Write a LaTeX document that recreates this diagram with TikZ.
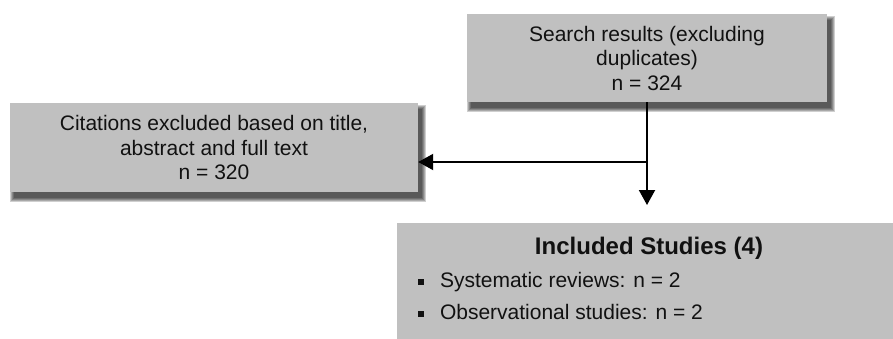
\documentclass[tikz,border=0pt]{standalone}
\usepackage{fontspec}
\setmainfont{Liberation Sans}
\usetikzlibrary{arrows.meta,backgrounds}
\definecolor{boxgray}{HTML}{C0C0C0}
\definecolor{txt}{HTML}{111111}
\tikzset{
  flowbox/.style={rectangle, fill=boxgray, draw=none, inner sep=0pt, align=center,
    text=txt, font=\fontsize{21}{24.5}\selectfont},
  conn/.style={line width=2pt, draw=black},
  tip/.style={-{Triangle[width=16pt,length=15pt]}},
  boxtext/.style={inner sep=0pt, text=txt, font=\fontsize{21}{24.5}\selectfont},
}
\newcommand{\boxshadow}[1]{%
  \foreach \r in {0,1,2,3,4}{
    \fill[black,opacity=0.19] ([shift={(4-\r,6-\r)}]#1.north west) rectangle ([shift={(4+\r,6+\r)}]#1.south east);
  }}
\begin{document}
\begin{tikzpicture}[x=1pt,y=-1pt]
\clip (0,0) rectangle (893,339);

\node[flowbox, minimum width=360pt, minimum height=88pt] (search) at (647,58)
  {Search results (excluding\\duplicates)\\n = 324};
\node[flowbox, minimum width=408pt, minimum height=89pt] (excl) at (214,147.5)
  {Citations excluded based on title,\\abstract and full text\\n = 320};
\node[flowbox, minimum width=504pt, minimum height=126pt] (inc) at (649,286) {};

\node[boxtext, anchor=base, font=\fontsize{24}{28}\selectfont\bfseries] (inctitle)
  at ([shift={(0,32)}]inc.north) {Included Studies (4)};
\node[boxtext, anchor=base west] (b1) at ([shift={(21,65)}]inc.north west)
  {\raisebox{3pt}{\rule{6pt}{6pt}}\hspace{16pt}Systematic reviews: n = 2};
\node[boxtext, anchor=base west] (b2) at ([shift={(21,97)}]inc.north west)
  {\raisebox{3pt}{\rule{6pt}{6pt}}\hspace{16pt}Observational studies: n = 2};

\begin{scope}[on background layer]
  \boxshadow{search}
  \boxshadow{excl}
  \boxshadow{inc}
\end{scope}

\coordinate (split) at (647,162);
\coordinate (arrowend) at (647,205);
\draw[conn, tip] (search.south -| split) -- (arrowend);
\draw[conn, tip] (split) -- (split -| excl.east);
\end{tikzpicture}
\end{document}
